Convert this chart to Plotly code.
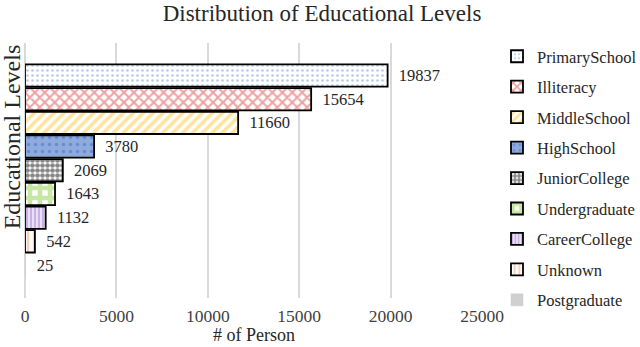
import plotly.graph_objects as go

categories = ["PrimarySchool", "Illiteracy", "MiddleSchool", "HighSchool", "JuniorCollege",
              "Undergraduate", "CareerCollege", "Unknown", "Postgraduate"]
counts = [19837, 15654, 11660, 3780, 2069, 1643, 1132, 542, 25]
x_ticks = [0, 5000, 10000, 15000, 20000, 25000]

styles = {
    "PrimarySchool": dict(shape=".", fg="#6f95d6", bg="#ffffff", sol=0.22, size=5),
    "Illiteracy": dict(shape="x", fg="#d94545", bg="#ffffff", sol=0.5, size=7),
    "MiddleSchool": dict(shape="/", fg="#ffc83d", bg="#ffffff", sol=0.5, size=7),
    "HighSchool": dict(shape=".", fg="#3e6fc4", bg="#8faadc", sol=0.2, size=7),
    "JuniorCollege": dict(shape=".", fg="#111111", bg="#ffffff", sol=0.7, size=5),
    "Undergraduate": dict(shape="+", fg="#92d050", bg="#ffffff", sol=0.7, size=10),
    "CareerCollege": dict(shape="|", fg="#9563c9", bg="#ffffff", sol=0.7, size=4),
    "Unknown": dict(shape="|", fg="#f0a070", bg="#ffffff", sol=0.4, size=6),
    "Postgraduate": dict(shape="", fg="#bfbfbf", bg="#d0d0d0", sol=0.3, size=6),
}

font = "Liberation Serif"
W, H = 640, 347
fig = go.Figure()
order = list(reversed(categories))
for cat, val in zip(categories, counts):
    s = styles[cat]
    fig.add_trace(go.Bar(
        y=[cat], x=[val], orientation="h", name=cat, legendgroup=cat,
        width=0.94,
        marker=dict(
            color=s["bg"],
            line=dict(color="#000000" if cat != "Postgraduate" else "#cccccc",
                      width=1.8 if cat != "Postgraduate" else 0.5),
            pattern=dict(shape=s["shape"], fgcolor=s["fg"], bgcolor=s["bg"],
                         solidity=s["sol"], size=s["size"], fillmode="overlay"),
        ),
        text=[f"{val}"], texttemplate="\u00a0\u00a0%{text}",
        textposition="outside", cliponaxis=False,
        textfont=dict(family=font, size=16.5, color="#262626"),
    ))

fig.update_layout(
    width=W, height=H,
    margin=dict(l=25, r=158, t=43, b=49),
    paper_bgcolor="white", plot_bgcolor="white",
    barmode="overlay",
    title=dict(text="Distribution of Educational Levels", x=322 / W, xref="container",
               xanchor="center", y=1 - 13 / H, yanchor="middle",
               font=dict(family=font, size=23, color="#262626")),
    font=dict(family=font, color="#404040"),
    showlegend=True,
    legend=dict(xref="container", yref="container",
                x=497 / W, xanchor="left", y=1 - 39 / H, yanchor="top",
                traceorder="grouped", tracegroupgap=6, maxheight=1.0,
                font=dict(family=font, size=16.5, color="#262626"),
                bgcolor="rgba(0,0,0,0)", itemwidth=30),
    annotations=[
        dict(text="Educational Levels", textangle=-90, xref="paper", yref="paper",
             x=-13 / 457, y=0.63, xanchor="center", yanchor="middle", showarrow=False,
             font=dict(family=font, size=24, color="#262626")),
        dict(text="# of Person", xref="paper", yref="paper",
             x=0.5, y=(298 - 335) / 255, xanchor="center", yanchor="middle", showarrow=False,
             font=dict(family=font, size=18, color="#262626")),
    ],
)
fig.update_xaxes(
    range=[0, 25000], tickvals=x_ticks, ticktext=[str(t) for t in x_ticks],
    showgrid=True, gridcolor="#d9d9d9", gridwidth=1.5,
    zeroline=True, zerolinecolor="#d9d9d9", zerolinewidth=1.5,
    showline=False, ticks="", ticklabelstandoff=5,
    tickfont=dict(family=font, size=17.5, color="#404040"),
    automargin=False,
)
fig.update_yaxes(
    type="category", categoryorder="array", categoryarray=order,
    range=[-1.39, 9.37], showticklabels=False, showgrid=False, zeroline=False, ticks="",
    automargin=False,
)

fig.write_html("out.html", config={"displayModeBar": False},
               post_script="document.body.style.margin='0';")
